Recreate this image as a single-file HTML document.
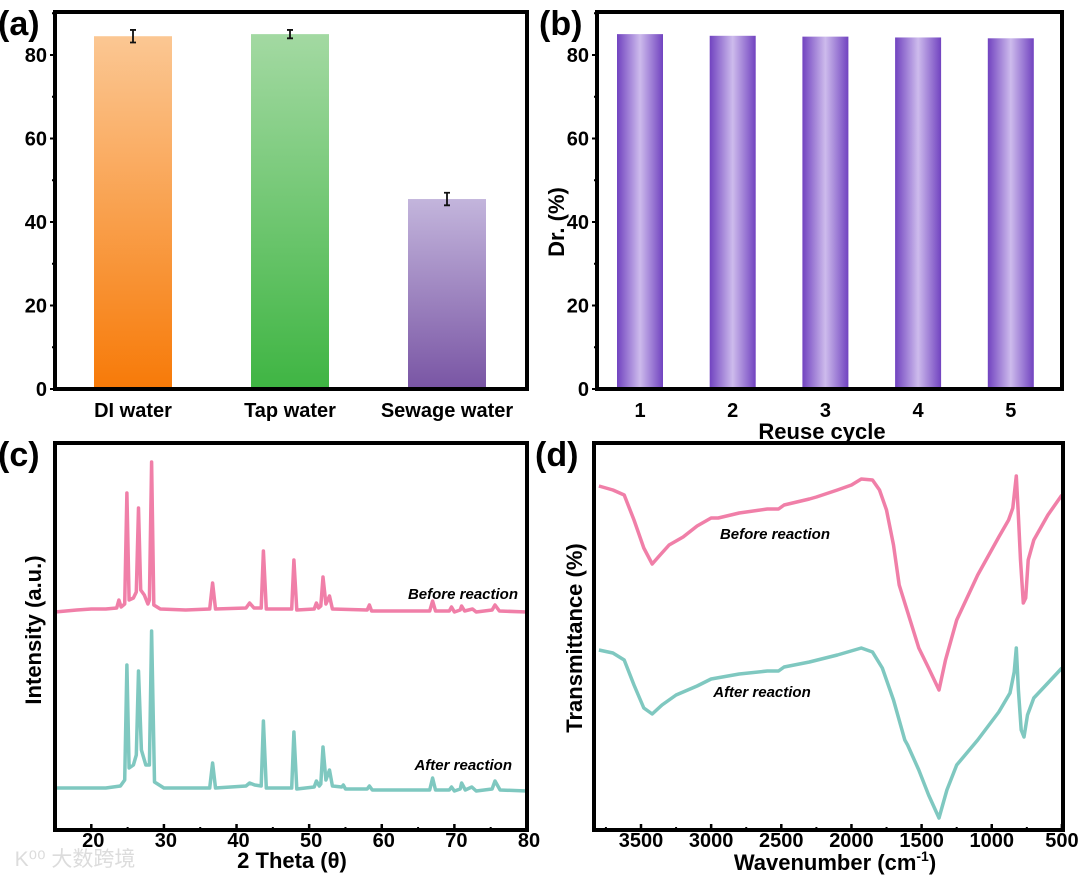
<!DOCTYPE html>
<html><head><meta charset="utf-8">
<style>
html,body{margin:0;padding:0;background:#fff;}
svg{display:block;font-family:"Liberation Sans",Arial,sans-serif;}
text{font-weight:bold;fill:#000;}
</style></head>
<body>
<svg id="fig" width="1080" height="876" viewBox="0 0 1080 876" xmlns="http://www.w3.org/2000/svg">
<defs>
<linearGradient id="gDI" x1="0" y1="0" x2="0" y2="1"><stop offset="0" stop-color="#fbc793"/><stop offset="1" stop-color="#f77a08"/></linearGradient>
<linearGradient id="gTap" x1="0" y1="0" x2="0" y2="1"><stop offset="0" stop-color="#a3d9a2"/><stop offset="1" stop-color="#3fb543"/></linearGradient>
<linearGradient id="gSew" x1="0" y1="0" x2="0" y2="1"><stop offset="0" stop-color="#c3b5dc"/><stop offset="1" stop-color="#7955a4"/></linearGradient>
<linearGradient id="gB" x1="0" y1="0" x2="1" y2="0"><stop offset="0" stop-color="#7143c0"/><stop offset="0.5" stop-color="#cdbbec"/><stop offset="1" stop-color="#7143c0"/></linearGradient>
</defs>
<text x="75" y="866" style="font-family:'Liberation Sans','Noto Sans CJK SC',sans-serif;font-weight:normal;fill:#dcdcdc;font-size:21px" text-anchor="middle">K⁰⁰ 大数跨境</text>
</svg>
<script>
// ---------- data ----------
const aCategories = ["DI water","Tap water","Sewage water"];
const aValues = [84.5, 85, 45.5];
const aErrors = [1.5, 1.0, 1.5];
const aTicks = [0,20,40,60,80];

const bCycles = ["1","2","3","4","5"];
const bValues = [85, 84.6, 84.4, 84.2, 84.0];
const bTicks = [0,20,40,60,80];

const cTicks = [20,30,40,50,60,70,80];
const cBeforeTheta = [15,18,20,22,23.5,23.8,24.1,24.6,24.9,25.2,25.8,26.2,26.5,26.8,27.3,27.8,28.0,28.3,28.6,29.5,33,36.3,36.7,37.1,41.3,41.8,42.4,43.4,43.7,44.1,47.6,47.9,48.3,50.7,51,51.3,51.6,51.9,52.3,52.8,53.2,58,58.3,58.6,66.6,67,67.4,69.3,69.6,70,70.8,71,71.4,72.5,73,75.2,75.6,76.2,80];
const cBeforeI = [218,220,221,221,222,230,223,226,337,230,232,238,322,240,235,226,230,368,225,221,220,221,247,221,222,227,222,222,279,221,221,270,220,221,227,222,224,253,226,234,221,220,225,219,219,229,219,219,223,218,220,224,219,221,218,220,225,219,218];
const cAfterTheta = [15,22,24,24.6,24.9,25.2,25.8,26.2,26.5,26.9,27.5,28.0,28.3,28.7,30,36.3,36.7,37.1,41.3,41.8,42.5,43.4,43.7,44.1,47.6,47.9,48.3,50.7,51,51.4,51.6,51.9,52.3,52.8,53.2,54.5,54.7,55,58,58.3,58.7,66.6,67,67.4,69.3,69.6,70,70.8,71,71.5,72.4,73,75.2,75.6,76.3,80];
const cAfterI = [42,42,44,50,165,62,65,75,159,80,65,65,199,48,42,42,67,42,44,47,45,44,109,42,42,98,41,43,49,44,46,83,50,60,44,43,45,41,41,44,40,40,52,40,40,43,39,41,47,40,43,39,41,49,40,39];

const dTicks = [3500,3000,2500,2000,1500,1000,500];
const dBeforeWn = [3800,3700,3620,3550,3480,3420,3370,3300,3200,3100,3000,2950,2800,2600,2520,2480,2300,2250,2100,2000,1930,1850,1800,1750,1700,1660,1600,1520,1450,1376,1330,1250,1100,950,880,850,825,812,795,775,758,740,700,600,500];
const dBeforeT = [344,340,335,310,282,266,274,285,293,304,312,312,317,321,321,325,331,333,340,345,351,350,340,320,285,245,218,182,162,140,170,210,255,293,310,322,354,320,270,227,232,270,290,315,335];
const dAfterWn = [3800,3700,3620,3550,3480,3420,3350,3250,3100,3000,2800,2600,2520,2480,2300,2100,1930,1850,1780,1700,1620,1600,1520,1450,1376,1320,1250,1100,950,870,840,825,810,790,770,745,700,600,500];
const dAfterT = [180,177,170,145,122,116,125,135,144,151,156,159,159,163,168,175,182,178,162,130,90,85,60,35,12,40,65,90,118,137,158,182,140,100,93,115,132,147,162];

// ---------- helpers ----------
const NS = "http://www.w3.org/2000/svg";
const svg = document.getElementById("fig");
function mk(tag, attrs, parent){
  const e = document.createElementNS(NS, tag);
  for (const k in attrs) e.setAttribute(k, attrs[k]);
  (parent||svg).appendChild(e);
  return e;
}
function txt(x,y,s,size,anchor,extra){
  const t = mk("text",Object.assign({x:x,y:y,"font-size":size,"text-anchor":anchor||"middle"},extra||{}));
  t.textContent = s;
  return t;
}
const TK = 20, TT = 22, PL = 34;

// ---------- panel a ----------
const A = {l:55,r:527,t:12,b:389};
const aY = v => A.b - v*(A.b-55)/80;
const aX = i => 133 + i*157;
const aFill = ["url(#gDI)","url(#gTap)","url(#gSew)"];
aValues.forEach((v,i)=>{
  const r = mk("rect",{x:aX(i)-39,y:aY(v),width:78,height:A.b-aY(v),fill:aFill[i]});
  
  
  const e = mk("path",{d:`M${aX(i)} ${aY(v+aErrors[i])}V${aY(v-aErrors[i])}M${aX(i)-3} ${aY(v+aErrors[i])}h6M${aX(i)-3} ${aY(v-aErrors[i])}h6`,stroke:"#111","stroke-width":1.8,fill:"none"});
  
  
  const lb = txt(aX(i),417,aCategories[i],TK);
  
  
});
aTicks.forEach(v=>{
  mk("line",{x1:A.l-5,x2:A.l,y1:aY(v),y2:aY(v),stroke:"#000","stroke-width":2});
  mk("line",{x1:A.l-3,x2:A.l,y1:aY(v+10),y2:aY(v+10),stroke:"#000","stroke-width":2});
  const t = txt(A.l-8,aY(v)+7,String(v),TK,"end");
  
  
});
const fa = mk("rect",{x:A.l,y:A.t,width:A.r-A.l,height:A.b-A.t,fill:"none",stroke:"#000","stroke-width":4});


const la = txt(-2,35,"(a)",PL,"start");



// ---------- panel b ----------
const B = {l:597,r:1062,t:12,b:389};
const bY = v => B.b - v*(B.b-55)/80;
const bX = i => 640 + i*92.7;
bValues.forEach((v,i)=>{
  const r = mk("rect",{x:bX(i)-23,y:bY(v),width:46,height:B.b-bY(v),fill:"url(#gB)"});
  
  
  const lb = txt(bX(i),417,bCycles[i],TK);
  
  
});
bTicks.forEach(v=>{
  mk("line",{x1:B.l-5,x2:B.l,y1:bY(v),y2:bY(v),stroke:"#000","stroke-width":2});
  mk("line",{x1:B.l-3,x2:B.l,y1:bY(v+10),y2:bY(v+10),stroke:"#000","stroke-width":2});
  const t = txt(B.l-8,bY(v)+7,String(v),TK,"end");
  
  
});
const fb = mk("rect",{x:B.l,y:B.t,width:B.r-B.l,height:B.b-B.t,fill:"none",stroke:"#000","stroke-width":4});


const bxt = txt(822,439,"Reuse cycle",TT);


const byt = txt(0,0,"Dr. (%)",TT,"middle",{transform:"translate(564,222) rotate(-90)"});


const lbB = txt(539,35,"(b)",PL,"start");



// ---------- panel c ----------
const C = {l:55,r:527,t:443,b:830};
const cX = th => C.l + (th-15)*(C.r-C.l)/65;
const cY = v => C.b - v;
function linePath(xs, ys, fx, fy){ return xs.map((x,i)=>(i?"L":"M")+fx(x).toFixed(1)+" "+fy(ys[i]).toFixed(1)).join(""); }
const cp1 = mk("path",{d:linePath(cBeforeTheta,cBeforeI,cX,cY),fill:"none",stroke:"#f07fa8","stroke-width":3.5,"stroke-linejoin":"round"});


const cp2 = mk("path",{d:linePath(cAfterTheta,cAfterI,cX,cY),fill:"none",stroke:"#7fc8c0","stroke-width":3.5,"stroke-linejoin":"round"});


cTicks.forEach(v=>{
  mk("line",{x1:cX(v),x2:cX(v),y1:C.b,y2:C.b-6,stroke:"#000","stroke-width":2.5});
  if (v<80) mk("line",{x1:cX(v+5),x2:cX(v+5),y1:C.b,y2:C.b-3,stroke:"#000","stroke-width":2});
  const t = txt(cX(v)+2,847,String(v),TK);
  
  
});
const fc = mk("rect",{x:C.l,y:C.t,width:C.r-C.l,height:C.b-C.t,fill:"none",stroke:"#000","stroke-width":4});


const cl1 = txt(518,599,"Before reaction",15,"end",{"font-style":"italic"});


const cl2 = txt(512,770,"After reaction",15,"end",{"font-style":"italic"});


const cxt = txt(292,868,"2 Theta (θ)",TT);


const cyt = txt(0,0,"Intensity (a.u.)",TT,"middle",{transform:"translate(41,630) rotate(-90)"});


const lbC = txt(-2,466,"(c)",PL,"start");



// ---------- panel d ----------
const D = {l:594,r:1063,t:443,b:830};
const dX = w => 641 + (3500-w)*0.1403;
const dY = v => D.b - v;
const dp1 = mk("path",{d:linePath(dBeforeWn,dBeforeT,dX,dY),fill:"none",stroke:"#f07fa8","stroke-width":3.5,"stroke-linejoin":"round"});


const dp2 = mk("path",{d:linePath(dAfterWn,dAfterT,dX,dY),fill:"none",stroke:"#7fc8c0","stroke-width":3.5,"stroke-linejoin":"round"});


dTicks.forEach(v=>{
  mk("line",{x1:dX(v),x2:dX(v),y1:D.b,y2:D.b-6,stroke:"#000","stroke-width":2.5});
  mk("line",{x1:dX(v+250),x2:dX(v+250),y1:D.b,y2:D.b-3,stroke:"#000","stroke-width":2});
  const t = txt(dX(v),847,String(v),TK);
  
  
});
const fd = mk("rect",{x:D.l,y:D.t,width:D.r-D.l,height:D.b-D.t,fill:"none",stroke:"#000","stroke-width":4});


const dl1 = txt(775,539,"Before reaction",15,"middle",{"font-style":"italic"});


const dl2 = txt(762,697,"After reaction",15,"middle",{"font-style":"italic"});


const dxt = txt(835,870,"Wavenumber (cm",TT,"middle");


const sup = mk("tspan",{"font-size":14,dy:-9},dxt); sup.textContent="-1";
const cls = mk("tspan",{dy:9},dxt); cls.textContent=")";
const dyt = txt(0,0,"Transmittance (%)",TT,"middle",{transform:"translate(582,638) rotate(-90)"});


const lbD = txt(535,466,"(d)",PL,"start");


</script>
</body></html>
